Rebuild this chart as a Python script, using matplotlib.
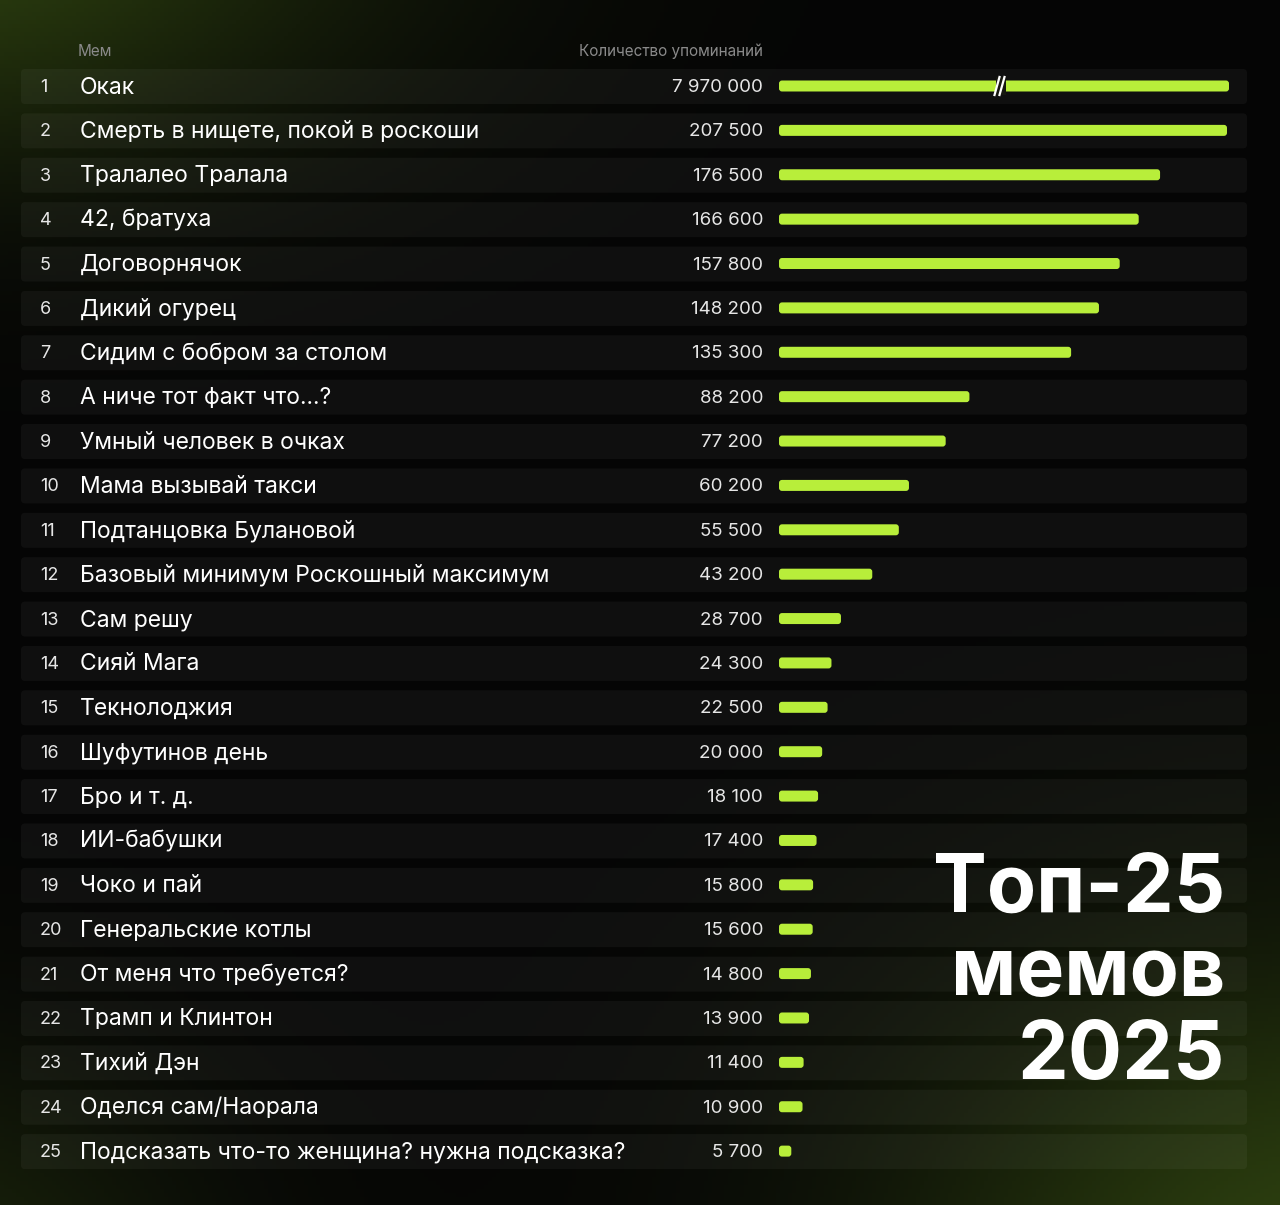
import matplotlib
matplotlib.use("Agg")
import matplotlib.pyplot as plt
import numpy as np
from matplotlib.patches import FancyBboxPatch

ranks = list(range(1, 26))
memes = ["Окак", "Смерть в нищете, покой в роскоши", "Тралалео Тралала", "42, братуха",
         "Договорнячок", "Дикий огурец", "Сидим с бобром за столом", "А ниче тот факт что...?",
         "Умный человек в очках", "Мама вызывай такси", "Подтанцовка Булановой",
         "Базовый минимум Роскошный максимум", "Сам решу", "Сияй Мага", "Текнолоджия",
         "Шуфутинов день", "Бро и т. д.", "ИИ-бабушки", "Чоко и пай", "Генеральские котлы",
         "От меня что требуется?", "Трамп и Клинтон", "Тихий Дэн", "Оделся сам/Наорала",
         "Подсказать что-то женщина? нужна подсказка?"]
values = [7970000, 207500, 176500, 166600, 157800, 148200, 135300, 88200, 77200, 60200,
          55500, 43200, 28700, 24300, 22500, 20000, 18100, 17400, 15800, 15600, 14800,
          13900, 11400, 10900, 5700]
col_meme = "Мем"
col_count = "Количество упоминаний"
title = "Топ-25\nмемов\n2025"

plt.rcParams['font.family'] = ['Inter', 'DejaVu Sans']
W, H = 1280, 1205
fig = plt.figure(figsize=(12.8, 12.05), dpi=100)
ax = fig.add_axes([0, 0, 1, 1])
ax.set_xlim(0, W); ax.set_ylim(H, 0); ax.axis('off')

yy, xx = np.mgrid[0:H:4, 0:W:4]
g1 = np.exp(-(((xx + 100) / 450.0) ** 2 + ((yy + 100) / 250.0) ** 2)) * 0.7
g2 = np.exp(-(((xx - 1350) / 450.0) ** 2 + ((yy - 1300) / 350.0) ** 2)) * 0.7
g3 = np.exp(-(((xx + 100) / 300.0) ** 2 + ((yy - 1300) / 250.0) ** 2)) * 0.35
g = np.clip(g1 + g2 + g3, 0, 1)
base = np.array([0.02, 0.02, 0.02])
green = np.array([0.25, 0.36, 0.08])
img = base + g[..., None] * (green - base)
ax.imshow(img, extent=[0, W, H, 0], zorder=0, aspect='auto')

y0, dy = 86, 44.38
x0, scale = 779, 448 / 207500
full = 1229 - x0
for i, (r, m, v) in enumerate(zip(ranks, memes, values)):
    y = y0 + i * dy
    ax.add_patch(FancyBboxPatch((21, y - 17), 1226, 35, boxstyle="round,pad=0,rounding_size=4",
                                fc=(1, 1, 1, 0.045), ec='none', zorder=1))
    ax.text(40, y + 1.5, str(r), color='#e6e6e6', fontsize=13, va='center', ha='left', zorder=3)
    ax.text(80, y + 1.5, m, color='white', fontsize=16.5, va='center', ha='left', zorder=3)
    ax.text(763, y + 1.5, f"{v:,}".replace(",", " "), color='#e6e6e6', fontsize=13.5,
            va='center', ha='right', zorder=3)
    w = full if v > 1e6 else max(v * scale, 8)
    ax.add_patch(FancyBboxPatch((x0, y - 5.5), w, 11, boxstyle="round,pad=0,rounding_size=3",
                                fc='#b8ee3a', ec='none', zorder=2))
    if v > 1e6:
        bx = x0 + full * 0.49
        ax.add_patch(plt.Rectangle((bx - 4, y - 9), 10, 18, fc='#16170f', ec='none', zorder=3))
        for dx in (-2.5, 2.5):
            ax.plot([bx + dx - 2.5, bx + dx + 2.5], [y + 9, y - 9], color='white', lw=1.6, zorder=4)

ax.text(78, 51, col_meme, color='#8a8a8a', fontsize=11, va='center', ha='left')
ax.text(763, 51, col_count, color='#8a8a8a', fontsize=11, va='center', ha='right')
ax.text(1225, 974, title, color='white', fontsize=58, fontweight='bold', va='center', ha='right',
        linespacing=1.13, zorder=5)
fig.savefig("out.png", dpi=100)
